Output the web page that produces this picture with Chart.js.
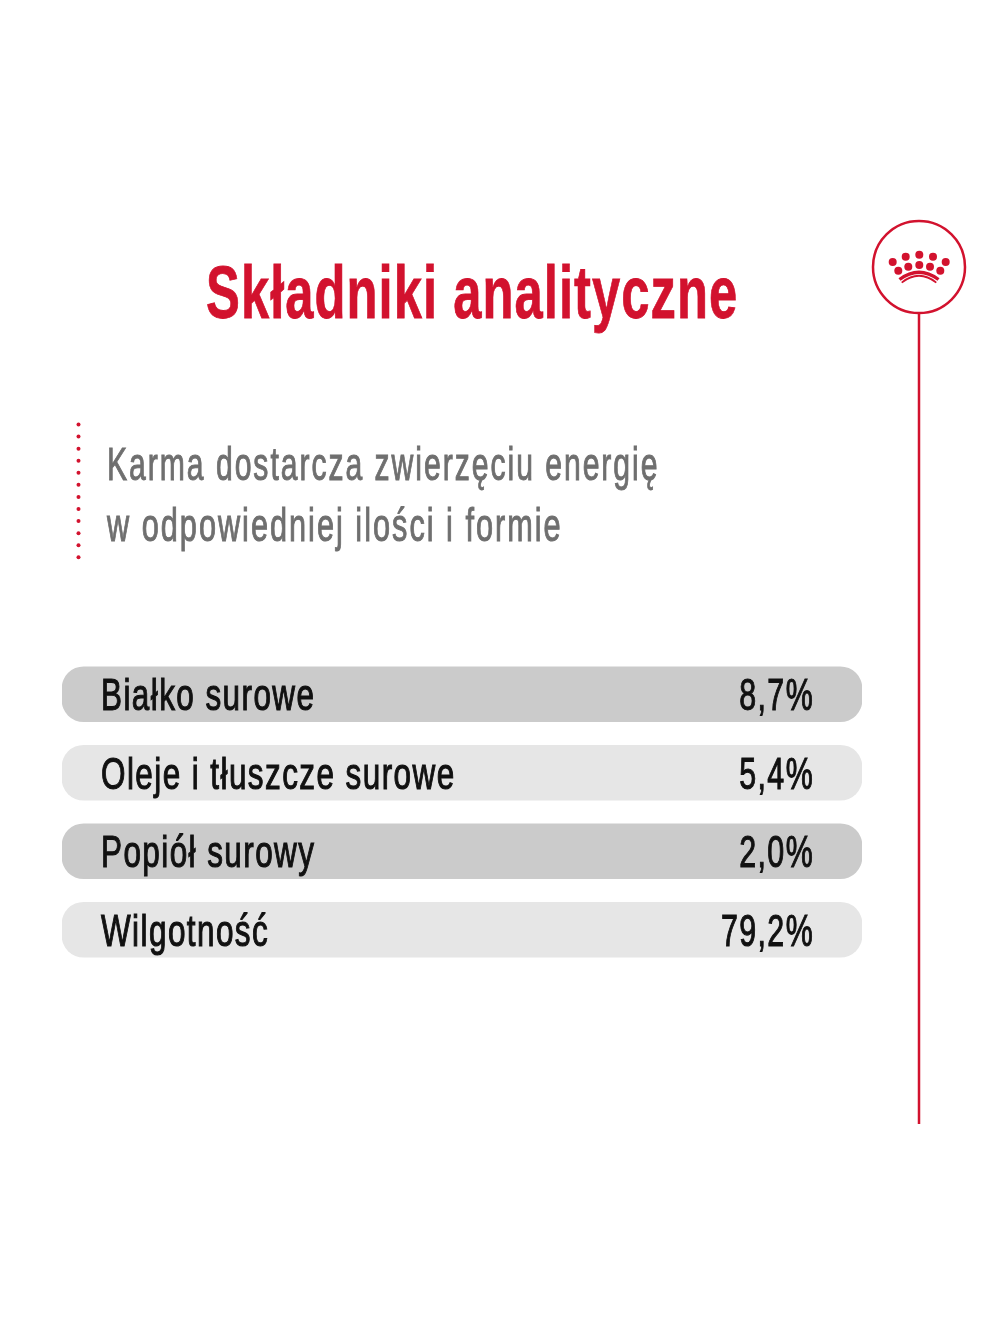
<!DOCTYPE html>
<html lang="pl">
<head>
    <meta charset="UTF-8">
    <title>Składniki analityczne</title>
    <script src="https://cdn.jsdelivr.net/npm/chart.js"></script>
    <style>
        html, body { margin: 0; padding: 0; background: #fff; }
        .page { position: relative; width: 1000px; height: 1334px; overflow: hidden; }
        #chart, .deco { position: absolute; left: 0; top: 0; }
        .txt {
            position: absolute;
            white-space: nowrap;
            font-family: "Liberation Sans Narrow", "Liberation Sans", sans-serif;
            transform-origin: left top;
        }
        #title { left: 206px; top: 250px; font-size: 74px; font-weight: bold; letter-spacing: 1.5px; color: #d2122e; transform: scaleX(0.686); -webkit-text-stroke: 0.8px #d2122e; }
        .sub { left: 107px; font-size: 46px; letter-spacing: 3px; color: #6f6f6f; transform: scaleX(0.655); -webkit-text-stroke: 1px #6f6f6f; }
        #sub1 { top: 437px; }
        #sub2 { top: 498px; transform: scaleX(0.667); }
    </style>
</head>
<body>
<div class="page">
    <canvas id="chart" width="1000" height="1334"></canvas>
    <svg class="deco" width="1000" height="1334" viewBox="0 0 1000 1334">
        <circle cx="919" cy="267" r="46" fill="none" stroke="#d2122e" stroke-width="2.5"/>
        <line x1="919" y1="313" x2="919" y2="1124" stroke="#d2122e" stroke-width="2.5"/>
        <g fill="#d2122e">
            <circle cx="892.7" cy="262" r="4"/><circle cx="905.7" cy="256.7" r="4"/>
            <circle cx="919.3" cy="254.7" r="4"/><circle cx="933" cy="256.7" r="4"/>
            <circle cx="945.7" cy="262" r="4"/><circle cx="898.3" cy="270.7" r="4"/>
            <circle cx="908.3" cy="266.7" r="4"/><circle cx="919.3" cy="265" r="4"/>
            <circle cx="930" cy="266.7" r="4"/><circle cx="940.3" cy="270.7" r="4"/>
        </g>
        <path d="M899.5 279.5 Q919 265 938.5 279.5" fill="none" stroke="#d2122e" stroke-width="3.4"/>
        <path d="M901.7 282.6 Q919 269 936.3 282.6" fill="none" stroke="#d2122e" stroke-width="1.8"/>
        <g id="dots" fill="#d2122e"></g>
    </svg>
    <div class="txt" id="title">Składniki analityczne</div>
    <div class="txt sub" id="sub1">Karma dostarcza zwierzęciu energię</div>
    <div class="txt sub" id="sub2">w odpowiedniej ilości i formie</div>
</div>

<script>
    const categories = ["Białko surowe", "Oleje i tłuszcze surowe", "Popiół surowy", "Wilgotność"];
    const percentValues = [8.7, 5.4, 2.0, 79.2];
    // the pills in the picture are all full width, the number is only printed
    const trackValues = [100, 100, 100, 100];
    const trackColors = ["#cbcbcb", "#e6e6e6", "#cbcbcb", "#e6e6e6"];

    // dotted rule next to the intro text
    const dots = document.getElementById("dots");
    for (let i = 0; i < 12; i++) {
        const c = document.createElementNS("http://www.w3.org/2000/svg", "circle");
        c.setAttribute("cx", 78.5);
        c.setAttribute("cy", 424.5 + i * 12.07);
        c.setAttribute("r", 2);
        dots.appendChild(c);
    }

    function squeezedText(ctx, text, x, base, squeeze, align) {
        ctx.save();
        ctx.translate(x, base);
        ctx.scale(squeeze, 1);
        ctx.textAlign = align;
        ctx.fillText(text, 0, 0);
        ctx.strokeText(text, 0, 0);
        ctx.restore();
    }

    const rowLabels = {
        id: "rowLabels",
        afterDatasetsDraw(chart) {
            const ctx = chart.ctx;
            const y = chart.scales.y;
            ctx.save();
            ctx.font = '44px "Liberation Sans Narrow", "Liberation Sans", sans-serif';
            ctx.letterSpacing = "2px";
            ctx.fillStyle = "#111";
            ctx.strokeStyle = "#111";
            ctx.lineWidth = 1.1;
            ctx.textBaseline = "alphabetic";
            categories.forEach((name, i) => {
                const base = y.getPixelForValue(i) + 16;
                const text = percentValues[i].toFixed(1).replace(".", ",") + "%";
                squeezedText(ctx, name, 101, base, 0.715, "left");
                squeezedText(ctx, text, 814, base, 0.69, "right");
            });
            ctx.restore();
        }
    };

    new Chart(document.getElementById("chart"), {
        type: "bar",
        data: {
            labels: categories,
            datasets: [{
                data: trackValues,
                backgroundColor: trackColors,
                borderRadius: 22,
                borderSkipped: false,
                barThickness: 55
            }]
        },
        options: {
            indexAxis: "y",
            responsive: false,
            animation: false,
            layout: { padding: { left: 62, right: 138, top: 655, bottom: 365 } },
            plugins: { legend: { display: false }, tooltip: { enabled: false } },
            scales: {
                x: { display: false, min: 0, max: 100 },
                y: { display: false }
            }
        },
        plugins: [rowLabels]
    });
</script>
</body>
</html>
